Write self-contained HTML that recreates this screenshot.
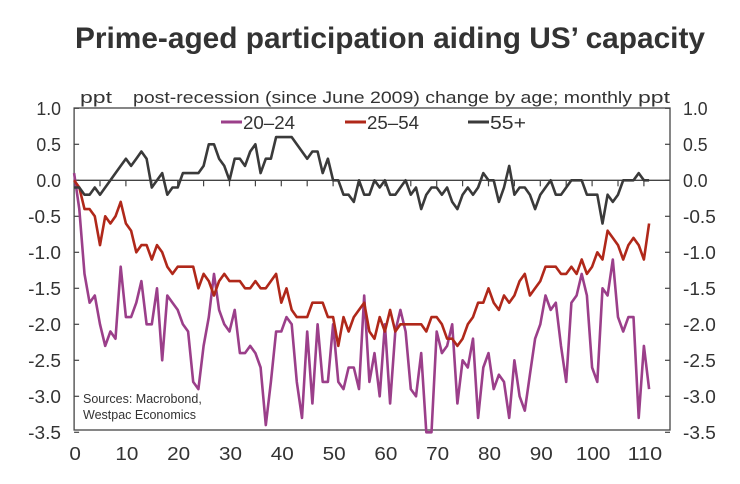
<!DOCTYPE html>
<html><head><meta charset="utf-8"><style>
body{margin:0;background:#fff;width:740px;height:479px;overflow:hidden;font-family:"Liberation Sans",Arial,sans-serif}
svg text{font-family:"Liberation Sans",Arial,sans-serif;fill:#333}
</style></head><body>
<svg id="chart" width="740" height="479" xmlns="http://www.w3.org/2000/svg">
<text x="390" y="48" text-anchor="middle" font-size="30" font-weight="bold" textLength="630" lengthAdjust="spacingAndGlyphs">Prime-aged participation aiding US’ capacity</text>
<text x="80" y="103" font-size="17" textLength="32" lengthAdjust="spacingAndGlyphs">ppt</text>
<text x="133" y="103" font-size="17" textLength="499" lengthAdjust="spacingAndGlyphs">post-recession (since June 2009) change by age; monthly</text>
<text x="638" y="103" font-size="17" textLength="32" lengthAdjust="spacingAndGlyphs">ppt</text>
<g id="axes"></g>
<g id="series"></g>
<g>
<line x1="221" y1="122" x2="242" y2="122" stroke="#9b3f8a" stroke-width="3"/>
<text x="243" y="129" font-size="18" textLength="52" lengthAdjust="spacingAndGlyphs">20–24</text>
<line x1="345" y1="122" x2="366" y2="122" stroke="#b0281a" stroke-width="3"/>
<text x="367" y="129" font-size="18" textLength="52" lengthAdjust="spacingAndGlyphs">25–54</text>
<line x1="468" y1="122" x2="489" y2="122" stroke="#3a3a3a" stroke-width="3"/>
<text x="490" y="129" font-size="18" textLength="36" lengthAdjust="spacingAndGlyphs">55+</text>
</g>
<text x="83" y="403" font-size="12.5">Sources: Macrobond,</text>
<text x="83" y="419" font-size="12.5">Westpac Economics</text>
</svg>
<script>
const s2024=[0.1,-0.4,-1.3,-1.7,-1.6,-2.0,-2.3,-2.1,-2.2,-1.2,-1.9,-1.9,-1.7,-1.4,-2.0,-2.0,-1.5,-2.5,-1.6,-1.7,-1.8,-2.0,-2.1,-2.8,-2.9,-2.3,-1.9,-1.3,-1.8,-2.0,-2.1,-1.8,-2.4,-2.4,-2.3,-2.4,-2.6,-3.4,-2.8,-2.1,-2.1,-1.9,-2.0,-2.8,-3.3,-2.1,-3.1,-2.0,-2.8,-2.8,-2.0,-2.8,-2.9,-2.6,-2.6,-2.9,-1.6,-2.8,-2.4,-3.0,-2.0,-3.1,-2.1,-1.8,-2.1,-2.9,-3.0,-2.4,-3.5,-3.5,-2.1,-2.4,-2.3,-2.0,-3.1,-2.5,-2.6,-2.2,-3.3,-2.6,-2.4,-2.9,-2.7,-2.8,-3.3,-2.5,-3.0,-3.2,-2.7,-2.2,-2.0,-1.6,-1.8,-1.7,-2.3,-2.8,-1.7,-1.6,-1.3,-1.6,-2.6,-2.8,-1.5,-1.6,-1.1,-1.9,-2.1,-1.9,-1.9,-3.3,-2.3,-2.9];
const s2554=[0,-0.1,-0.4,-0.4,-0.5,-0.9,-0.5,-0.6,-0.5,-0.3,-0.6,-0.7,-1.0,-0.9,-0.9,-1.1,-0.9,-1.0,-1.2,-1.3,-1.2,-1.2,-1.2,-1.2,-1.5,-1.3,-1.4,-1.6,-1.4,-1.3,-1.4,-1.4,-1.4,-1.5,-1.5,-1.4,-1.5,-1.5,-1.4,-1.3,-1.7,-1.5,-1.8,-1.9,-1.9,-1.9,-1.7,-1.7,-1.7,-1.9,-1.9,-2.3,-1.9,-2.1,-1.9,-1.8,-1.7,-2.1,-2.2,-1.9,-2.1,-1.8,-2.1,-2.0,-2.0,-2.0,-2.0,-2.0,-2.1,-1.9,-1.9,-2.0,-2.2,-2.2,-2.3,-2.2,-2.0,-1.9,-1.7,-1.7,-1.5,-1.7,-1.8,-1.6,-1.7,-1.6,-1.4,-1.3,-1.6,-1.5,-1.4,-1.2,-1.2,-1.2,-1.3,-1.3,-1.2,-1.3,-1.1,-1.3,-1.2,-1.0,-1.1,-0.7,-0.8,-0.9,-1.1,-0.9,-0.8,-0.9,-1.1,-0.6];
const s55=[-0.1,-0.1,-0.2,-0.2,-0.1,-0.2,-0.1,0,0.1,0.2,0.3,0.2,0.3,0.4,0.3,-0.1,0,0.1,-0.2,-0.1,-0.1,0.1,0.1,0.1,0.1,0.2,0.5,0.5,0.3,0.2,0,0.3,0.3,0.2,0.4,0.5,0.1,0.3,0.3,0.6,0.6,0.6,0.6,0.5,0.4,0.3,0.4,0.4,0.1,0.3,0,0,-0.2,-0.2,-0.3,0,-0.2,-0.2,0,-0.1,0,-0.2,-0.2,-0.1,0,-0.2,-0.1,-0.4,-0.2,-0.1,-0.1,-0.2,-0.1,-0.3,-0.4,-0.2,-0.1,-0.2,-0.1,0.1,0,0,-0.3,-0.1,0.2,-0.2,-0.1,-0.1,-0.2,-0.4,-0.2,-0.1,0,-0.2,-0.2,-0.1,0,0,0,-0.2,-0.2,-0.2,-0.6,-0.2,-0.3,-0.2,0,0,0,0.1,0,0];
const yTicks=[1.0,0.5,0.0,-0.5,-1.0,-1.5,-2.0,-2.5,-3.0,-3.5];
const yTickLabels=["1.0","0.5","0.0","-0.5","-1.0","-1.5","-2.0","-2.5","-3.0","-3.5"];
const xTicks=[0,10,20,30,40,50,60,70,80,90,100,110];

const NS="http://www.w3.org/2000/svg";
const L=74.1,R=670,T=108,B=430;
const xS=m=>L+m*5.18;
const yS=v=>180.3-v*72;
function mk(tag,attrs,parent){const e=document.createElementNS(NS,tag);for(const k in attrs)e.setAttribute(k,attrs[k]);parent.appendChild(e);return e;}
const ax=document.getElementById('axes');
let e;
e=mk('rect',{x:L,y:T,width:R-L,height:B-T,fill:'none',stroke:'#444','stroke-width':1.3},ax);


e=mk('line',{x1:L,x2:R,y1:yS(0),y2:yS(0),stroke:'#444','stroke-width':1.3},ax);


yTicks.forEach((v,i)=>{
  const y=yS(v);
  const w=yTickLabels[i].length*8.2;
  e=mk('line',{x1:L,x2:L+5,y1:y,y2:y,stroke:'#444','stroke-width':1.2},ax);
  
  
  e=mk('line',{x1:R-5,x2:R,y1:y,y2:y,stroke:'#444','stroke-width':1.2},ax);
  
  
  e=mk('text',{x:61-w,y:y+6.5,'font-size':18,textLength:w,lengthAdjust:'spacingAndGlyphs'},ax);
  e.textContent=yTickLabels[i];
  
  
  e=mk('text',{x:683,y:y+6.5,'font-size':18,textLength:w,lengthAdjust:'spacingAndGlyphs'},ax);
  e.textContent=yTickLabels[i];
  
  
});
for(let m=5;m<=110;m+=5){
  e=mk('line',{x1:xS(m),x2:xS(m),y1:yS(0),y2:yS(0)+6,stroke:'#444','stroke-width':1.2},ax);
  
  
}
xTicks.forEach(v=>{
  const s=String(v), w=s.length*11.5;
  e=mk('text',{x:xS(v)+1-w/2,y:460,'font-size':18,textLength:w,lengthAdjust:'spacingAndGlyphs'},ax);
  e.textContent=s;
  
  
});
const sg=document.getElementById('series');
function line(data,color,name){
  const p=data.map((v,i)=>xS(i).toFixed(1)+','+yS(v).toFixed(1)).join(' ');
  const el=mk('polyline',{points:p,fill:'none',stroke:color,'stroke-width':2.6,'stroke-linejoin':'round'},sg);
  
  
}
line(s2024,'#9b3f8a','series-20-24-line');
line(s2554,'#b0281a','series-25-54-line');
line(s55,'#3a3a3a','series-55plus-line');
</script>
</body></html>
